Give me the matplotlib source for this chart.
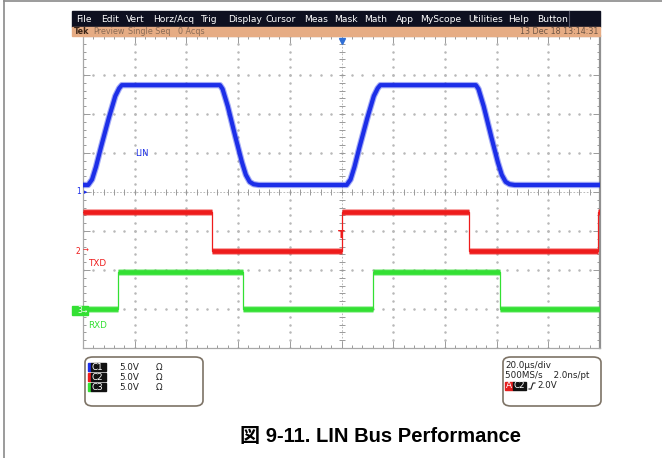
import matplotlib
matplotlib.use("Agg")
import matplotlib.pyplot as plt
from matplotlib.patches import Rectangle, FancyBboxPatch
import numpy as np

OUTPUT_FILE = "out.png"
W, H = 662, 458          # canvas in pixels (dpi 100)

# --- WAVEFORM DATA ---
# time in µs (20 µs/div), voltage in V (5 V/div)
LIN_T = [-100, -98, -96.5, -95, -93, -90, -87.5, -86, -85,
         -47, -46, -44, -41, -38.5, -37, -35.5, -34, -32,
         2, 3.5, 5, 7, 10, 12.5, 14, 15,
         52, 53, 55, 58, 60.5, 62, 63.5, 65, 67, 100]
LIN_V = [0.9, 0.9, 1.6, 3.2, 5.8, 9.5, 12.3, 13.3, 13.7,
         13.7, 13.2, 11.0, 7.0, 3.8, 2.2, 1.3, 1.0, 0.9,
         0.9, 1.6, 3.2, 5.8, 9.5, 12.3, 13.3, 13.7,
         13.7, 13.2, 11.0, 7.0, 3.8, 2.2, 1.3, 1.0, 0.9, 0.9]

TXD_EDGES = [-50.0, 0.0, 49.5, 99.3]
TXD_LOW, TXD_HIGH = 0.0, 4.9
TXD_START = TXD_HIGH
RXD_EDGES = [-86.5, -38.1, 12.2, 61.3]
RXD_LOW, RXD_HIGH = 0.0, 4.8
RXD_START = RXD_LOW

# ground position of each channel, in divisions from screen centre
OFFSET_LIN, OFFSET_TXD, OFFSET_RXD = 0.0, -1.5, -3.0
VOLTS_PER_DIV = 5.0

BLUE, RED, GREEN = "#1c2ee8", "#ee1c1c", "#33e033"

MENU_ITEMS = ["File", "Edit", "Vert", "Horz/Acq", "Trig", "Display", "Cursor",
              "Meas", "Mask", "Math", "App", "MyScope", "Utilities", "Help", "Button"]
MENU_X = [76, 101, 126, 153, 201, 228, 266, 304, 334, 364, 396, 420, 468, 508, 537]

STATUS_LEFT = ["Preview", "Single Seq", "0 Acqs"]
STATUS_X = [93, 128, 178]
STATUS_DATE = "13 Dec 18 13:14:31"

CHANNELS = ["C1", "C2", "C3"]
CH_SCALE = ["5.0V", "5.0V", "5.0V"]
TIMEBASE = ["20.0µs/div", "500MS/s    2.0ns/pt"]
TRIG_LEVEL = "2.0V"

CAPTION = "図 9-11. LIN Bus Performance"


def px(x, y):
    # pixel position -> figure fraction
    return x / W, 1 - y / H


def step_segments(edges, low, high, start):
    # waveform toggles between low and high at every edge
    bounds = [-100] + edges + [100]
    segs = []
    level = start
    for t0, t1 in zip(bounds[:-1], bounds[1:]):
        segs.append((t0, t1, level))
        level = low if level == high else high
    return segs


def draw_step(ax, edges, low, high, start, offset, color):
    segs = step_segments(edges, low, high, start)
    ts, ys = [], []
    for t0, t1, v in segs:
        y = offset + v / VOLTS_PER_DIV
        ts += [t0, t1]
        ys += [y, y]
        ax.plot([t0, t1], [y, y], color=color, lw=5.0, alpha=0.4,
                solid_capstyle="butt", zorder=3)
        ax.plot([t0, t1], [y, y], color=color, lw=3.4,
                solid_capstyle="butt", zorder=3)
    ax.plot(ts, ys, color=color, lw=0.9, zorder=3)


def main():
    fig = plt.figure(figsize=(W / 100, H / 100), dpi=100)
    fig.patch.set_facecolor("white")

    # outer frame lines
    fig.add_artist(plt.Line2D([4 / W, 4 / W], [0, 1 - 1 / H], color="#8a8a8a", lw=1.2))
    fig.add_artist(plt.Line2D([4 / W, 1], [1 - 1 / H, 1 - 1 / H], color="#8a8a8a", lw=1.2))

    # menu bar + status bar
    x0, y0 = px(72, 27)
    fig.add_artist(Rectangle((x0, y0), (600 - 72) / W, 16 / H, color="#0e1020",
                             transform=fig.transFigure))
    x0, y0 = px(72, 36)
    fig.add_artist(Rectangle((x0, y0), (600 - 72) / W, 9 / H, color="#e6ac84",
                             transform=fig.transFigure))
    for name, x in zip(MENU_ITEMS, MENU_X):
        fig.text(*px(x, 19.5), name, color="white", fontsize=6.6, va="center",
                 family="DejaVu Sans")
    fig.add_artist(plt.Line2D([569 / W, 569 / W], [1 - 11 / H, 1 - 27 / H],
                              color="#555566", lw=0.8))
    fig.text(*px(74, 31.5), "Tek", color="#3a2416", fontsize=5.8, va="center",
             fontweight="bold")
    for s, x in zip(STATUS_LEFT, STATUS_X):
        fig.text(*px(x, 31.5), s, color="#8a6c56", fontsize=5.8, va="center")
    fig.text(*px(598, 31.5), STATUS_DATE, color="#6f5645", fontsize=5.8,
             va="center", ha="right")

    # graticule
    ax = fig.add_axes([83 / W, 1 - 348 / H, (600 - 83) / W, (348 - 36) / H])
    ax.set_xlim(-100, 100)
    ax.set_ylim(-4, 4)
    ax.set_xticks(np.arange(-100, 101, 20))
    ax.set_xticks(np.arange(-100, 101, 4), minor=True)
    ax.set_yticks(np.arange(-4, 5, 1))
    ax.set_yticks(np.arange(-4, 4.01, 0.2), minor=True)
    ax.tick_params(which="both", direction="in", top=True, right=True,
                   labelleft=False, labelbottom=False, color="#9a9a9a", width=0.7)
    ax.tick_params(which="major", length=5)
    ax.tick_params(which="minor", length=2.5)
    for sp in ax.spines.values():
        sp.set_color("#a8a8a8")
        sp.set_linewidth(0.9)
    ax.spines["right"].set_color("#909090")
    ax.spines["right"].set_linewidth(1.6)

    # dotted grid
    minor_t = np.arange(-100, 101, 4)
    minor_v = np.arange(-4, 4.01, 0.2)
    for gx in range(-80, 81, 20):
        if gx != 0:
            ax.plot(np.full_like(minor_v, gx), minor_v, ls="none", marker="o",
                    ms=0.8, color="#b8b8b8", zorder=1)
    for gy in range(-3, 4):
        if gy != 0:
            ax.plot(minor_t, np.full_like(minor_t, gy, dtype=float), ls="none",
                    marker="o", ms=0.8, color="#b8b8b8", zorder=1)

    # centre crosshair with ticks
    ax.axhline(0, color="#b0b0b0", lw=0.6, ls=(0, (2, 2)), zorder=1)
    ax.axvline(0, color="#b0b0b0", lw=0.6, ls=(0, (2, 2)), zorder=1)
    ax.plot(minor_t, np.zeros_like(minor_t), ls="none", marker="|", ms=4,
            mew=0.7, color="#9a9a9a", zorder=1)
    ax.plot(np.zeros_like(minor_v), minor_v, ls="none", marker="_", ms=4,
            mew=0.7, color="#9a9a9a", zorder=1)

    # waveforms
    lin_y = OFFSET_LIN + np.array(LIN_V) / VOLTS_PER_DIV
    ax.plot(LIN_T, lin_y, color=BLUE, lw=4.6, alpha=0.4, zorder=4,
            solid_joinstyle="round")
    ax.plot(LIN_T, lin_y, color=BLUE, lw=3.0, zorder=4, solid_joinstyle="round")
    draw_step(ax, TXD_EDGES, TXD_LOW, TXD_HIGH, TXD_START, OFFSET_TXD, RED)
    draw_step(ax, RXD_EDGES, RXD_LOW, RXD_HIGH, RXD_START, OFFSET_RXD, GREEN)

    # trigger markers
    ax.plot(0, 3.88, marker="v", ms=5, color="#2f6fd6", clip_on=False, zorder=5)
    ax.text(0, OFFSET_TXD + 2.0 / VOLTS_PER_DIV, "T", color=RED, fontsize=7,
            fontweight="bold", ha="center", va="center", zorder=5)

    # waveform labels
    ax.text(-80, 1.0, "LIN", color=BLUE, fontsize=6, va="center")
    fig.text(*px(88, 263), "TXD", color=RED, fontsize=6.3, va="center")
    fig.text(*px(88, 326), "RXD", color=GREEN, fontsize=6.3, va="center")

    # channel ground markers
    fig.text(*px(76, 192), "1", color=BLUE, fontsize=5.5, va="center")
    fig.text(*px(84, 192), "▸", color=BLUE, fontsize=5, va="center")
    fig.text(*px(76, 251), "2", color=RED, fontsize=5.5, va="center")
    fig.text(*px(83, 251), "→", color=RED, fontsize=5, va="center")
    x0, y0 = px(72, 315)
    fig.add_artist(Rectangle((x0, y0), 16 / W, 9 / H, color=GREEN,
                             transform=fig.transFigure))
    fig.text(*px(77, 310.5), "3", color="white", fontsize=5.5, va="center")
    fig.text(*px(82, 310.5), "→", color="white", fontsize=4.5, va="center")

    # info boxes below the graticule
    for bx, bw in [(85, 118), (503, 98)]:
        x0, y0 = px(bx, 406)
        fig.add_artist(FancyBboxPatch((x0, y0), bw / W, 49 / H,
                                      boxstyle="round,pad=0,rounding_size=0.012",
                                      fc="white", ec="#7d7366", lw=1.2,
                                      transform=fig.transFigure))

    for i, (ch, sc, col) in enumerate(zip(CHANNELS, CH_SCALE, [BLUE, RED, GREEN])):
        yc = 367 + i * 10
        x0, y0 = px(88, yc + 4)
        fig.add_artist(Rectangle((x0, y0), 3 / W, 8 / H, color=col,
                                 transform=fig.transFigure))
        x0, y0 = px(91, yc + 4)
        fig.add_artist(Rectangle((x0, y0), 15 / W, 8 / H, color="#111111",
                                 transform=fig.transFigure))
        fig.text(*px(92, yc), ch, color="white", fontsize=6.3, va="center")
        fig.text(*px(119, yc), sc, color="#222222", fontsize=6.3, va="center")
        fig.text(*px(156, yc), "Ω", color="#222222", fontsize=6.3, va="center")

    fig.text(*px(505, 366), TIMEBASE[0], color="#222222", fontsize=6.3, va="center")
    fig.text(*px(505, 376), TIMEBASE[1], color="#222222", fontsize=6.3, va="center")
    x0, y0 = px(505, 390)
    fig.add_artist(Rectangle((x0, y0), 8 / W, 8 / H, color="#e41e1e",
                             transform=fig.transFigure))
    fig.text(*px(506, 386), "A", color="white", fontsize=6.3, va="center")
    x0, y0 = px(513, 390)
    fig.add_artist(Rectangle((x0, y0), 13 / W, 8 / H, color="#111111",
                             transform=fig.transFigure))
    fig.text(*px(514, 386), "C2", color="white", fontsize=6.3, va="center")
    # rising edge symbol
    sx = np.array([529, 531, 533, 535]) / W
    sy = 1 - np.array([389, 389, 383, 383]) / H
    fig.add_artist(plt.Line2D(sx, sy, color="#222222", lw=0.8))
    fig.text(*px(537, 386), TRIG_LEVEL, color="#222222", fontsize=6.3, va="center")

    fig.text(*px(381, 436), CAPTION, fontsize=14.5, fontweight="bold", ha="center",
             va="center", family=["Liberation Sans", "Noto Sans CJK JP"])

    fig.savefig(OUTPUT_FILE, dpi=100)


if __name__ == "__main__":
    main()
